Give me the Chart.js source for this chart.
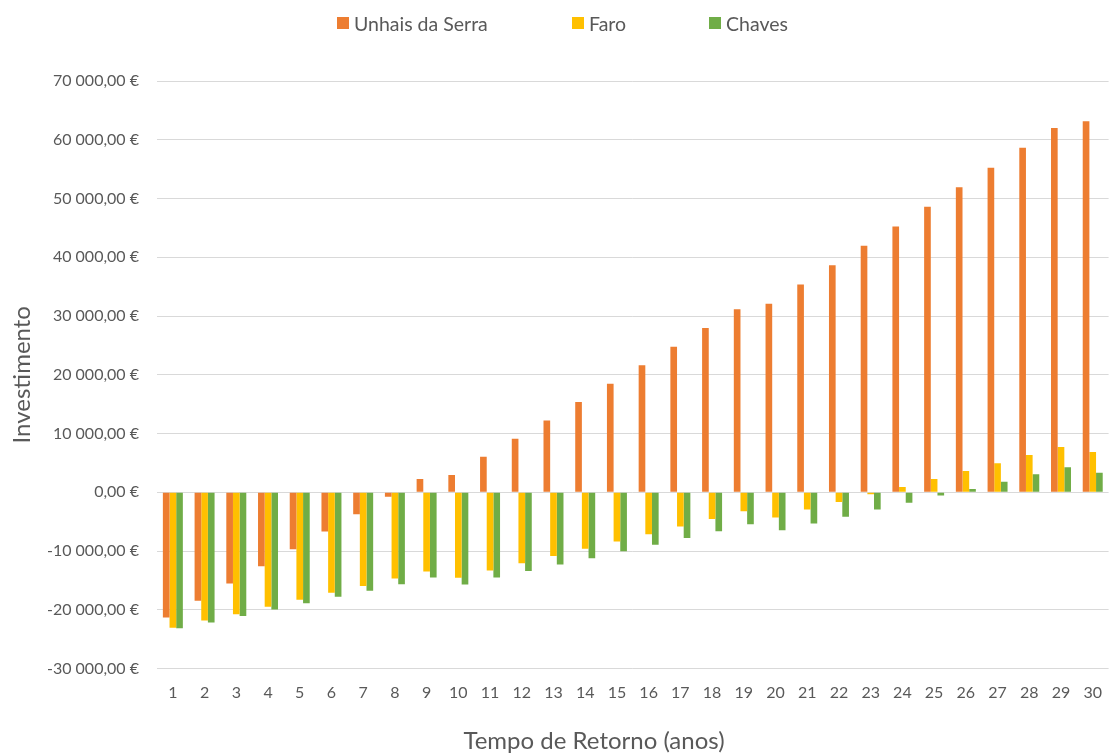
<!DOCTYPE html>
<html lang="pt">
<head>
<meta charset="utf-8">
<title>Tempo de Retorno</title>
<script src="https://cdn.jsdelivr.net/npm/chart.js@4/dist/chart.umd.min.js"></script>
<style>
  html, body { margin: 0; padding: 0; background: #ffffff; }
  #wrap { position: relative; width: 1109px; height: 756px; overflow: hidden; }
  #chart { position: absolute; left: 0; top: 0; }
  .legend-item {
    position: absolute; top: 11px; height: 24px;
    display: flex; align-items: center; white-space: nowrap;
    font-family: Lato, "Noto Sans", sans-serif; font-size: 19.5px; color: #595959;
  }
  .legend-item .box { width: 12px; height: 12px; margin-right: 5px; }
  #xtitle {
    position: absolute; left: 394px; width: 400px; top: 726px; height: 28px;
    text-align: center; line-height: 28px;
    font-family: Lato, "Noto Sans", sans-serif; font-size: 24px; color: #595959;
  }
</style>
</head>
<body>
<div id="wrap">
  <canvas id="chart" width="1109" height="756"></canvas>
  <div id="xtitle">Tempo de Retorno (anos)</div>
</div>
<script>
// Anos de retorno (eixo X)
const anos = ['1','2','3','4','5','6','7','8','9','10','11','12','13','14','15',
              '16','17','18','19','20','21','22','23','24','25','26','27','28','29','30'];

// Investimento acumulado por localidade (€)
const unhaisDaSerra = [-21300, -18450, -15550, -12600, -9700, -6700, -3750, -750, 2250, 2950,
                       6050, 9100, 12200, 15350, 18450, 21600, 24750, 27950, 31150, 32100,
                       35350, 38650, 41950, 45250, 48600, 51900, 55250, 58650, 62000, 63150];
const faro = [-23050, -21850, -20750, -19500, -18300, -17100, -15950, -14700, -13500, -14550,
              -13300, -12100, -10850, -9600, -8400, -7150, -5850, -4550, -3250, -4300,
              -2950, -1650, -350, 900, 2250, 3600, 4950, 6350, 7700, 6850];
const chaves = [-23150, -22150, -21050, -19950, -18900, -17800, -16750, -15650, -14500, -15700,
                -14500, -13400, -12300, -11250, -10050, -8950, -7800, -6650, -5450, -6450,
                -5300, -4150, -2950, -1800, -550, 550, 1800, 3050, 4250, 3300];

// Limites do eixo Y
const yMin = -30000, yMax = 70000, yStep = 10000;

const series = [
  { label: 'Unhais da Serra', data: unhaisDaSerra, color: '#ED7D31' },
  { label: 'Faro',            data: faro,          color: '#FFC000' },
  { label: 'Chaves',          data: chaves,        color: '#70AD47' }
];

// Posição horizontal de cada entrada da legenda
const legendLeft = [337, 572, 709];

const FONT = 'Lato, "Noto Sans", sans-serif';
const TEXT = '#595959';

function euro(v) {
  const parts = Math.abs(v).toFixed(2).split('.');
  const int = parts[0].replace(/\B(?=(\d{3})+(?!\d))/g, ' ');
  return (v < 0 ? '-' : '') + int + ',' + parts[1] + ' €';
}

// Legenda
const wrap = document.getElementById('wrap');
series.forEach((s, i) => {
  const item = document.createElement('div');
  item.className = 'legend-item';
  item.style.left = legendLeft[i] + 'px';
  const box = document.createElement('span');
  box.className = 'box';
  box.style.background = s.color;
  const txt = document.createElement('span');
  txt.textContent = s.label;
  item.appendChild(box);
  item.appendChild(txt);
  wrap.appendChild(item);
});

new Chart(document.getElementById('chart'), {
  type: 'bar',
  data: {
    labels: anos,
    datasets: series.map(s => ({
      label: s.label,
      data: s.data,
      backgroundColor: s.color,
      borderWidth: 0,
      barPercentage: 1.0,
      categoryPercentage: 0.63
    }))
  },
  options: {
    responsive: false,
    animation: false,
    devicePixelRatio: 1,
    layout: { padding: { top: 81, right: 0, bottom: 0, left: 0 } },
    plugins: {
      legend: { display: false },
      tooltip: { enabled: false }
    },
    scales: {
      x: {
        grid: { display: false },
        border: { display: false },
        ticks: {
          color: TEXT,
          font: { family: FONT, size: 16 },
          padding: 7,
          maxRotation: 0,
          autoSkip: false
        },
        afterFit: (scale) => { scale.height = 87.5; }
      },
      y: {
        min: yMin,
        max: yMax,
        border: { display: false },
        grid: { color: '#D9D9D9', lineWidth: 1, drawTicks: false },
        ticks: {
          stepSize: yStep,
          color: TEXT,
          font: { family: FONT, size: 16 },
          padding: 18,
          callback: (v) => euro(v)
        },
        title: {
          display: true,
          text: 'Investimento',
          color: TEXT,
          font: { family: FONT, size: 24, lineHeight: 1 },
          padding: { top: 10, bottom: 0 }
        },
        afterFit: (scale) => { scale.width = 157; }
      }
    }
  }
});
</script>
</body>
</html>
